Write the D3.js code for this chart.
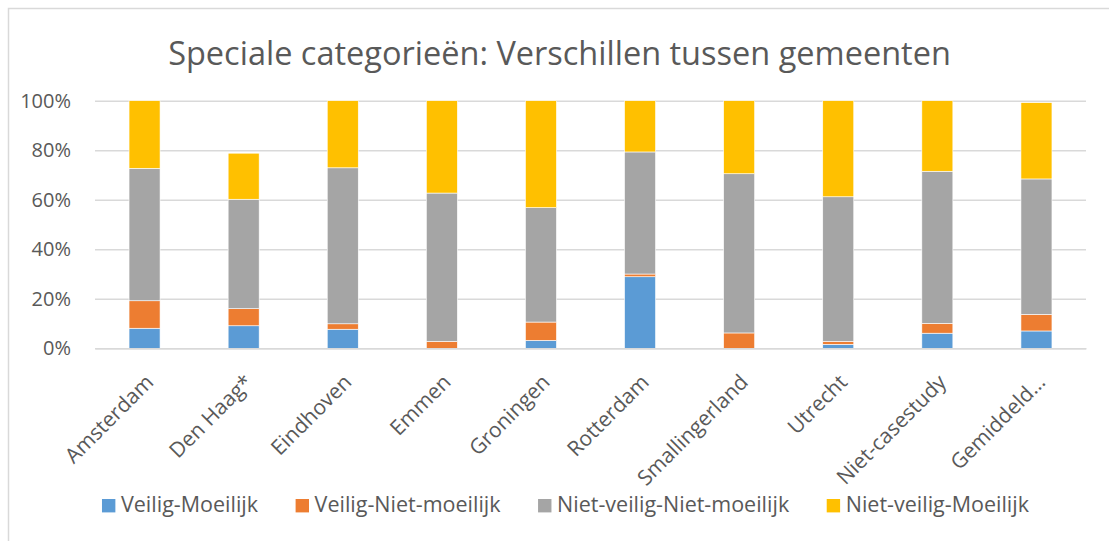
<!DOCTYPE html>
<html>
<head>
<meta charset="utf-8">
<script src="https://cdn.jsdelivr.net/npm/d3@7"></script>
<style>
  html, body { margin: 0; padding: 0; background: #fff; }
  svg { display: block; font-family: "Open Sans", sans-serif; }
</style>
</head>
<body>
<svg id="chart" width="1109" height="541"></svg>
<script>
const categories = ["Amsterdam", "Den Haag*", "Eindhoven", "Emmen", "Groningen", "Rotterdam", "Smallingerland", "Utrecht", "Niet-casestudy", "Gemiddeld…"];
const seriesNames = ["Veilig-Moeilijk", "Veilig-Niet-moeilijk", "Niet-veilig-Niet-moeilijk", "Niet-veilig-Moeilijk"];
const veiligMoeilijk         = [8.1, 9.1, 7.7, 0.0, 3.2, 28.9, 0.0, 1.6, 6.1, 7.0];
const veiligNietMoeilijk     = [11.1, 6.9, 2.2, 2.8, 7.4, 1.1, 6.2, 1.2, 4.0, 6.7];
const nietVeiligNietMoeilijk = [53.5, 44.2, 63.0, 59.9, 46.2, 49.3, 64.3, 58.4, 61.4, 54.7];
const nietVeiligMoeilijk     = [27.3, 18.6, 27.1, 37.3, 43.2, 20.7, 29.5, 38.8, 28.5, 30.8];
const seriesColors = ["#5b9bd5", "#ed7d31", "#a5a5a5", "#ffc000"];
const yTicks = [0, 20, 40, 60, 80, 100];
const titleText = "Speciale categorieën: Verschillen tussen gemeenten";

const svg = d3.select("#chart");
const W = 1109, H = 541;
const plot = { left: 95, right: 1086, top: 100.7, bottom: 348.3 };
const textColor = "#595959";

// chart frame (clipped at right/bottom like the reference)
svg.append("rect").attr("x", 8.5).attr("y", 8.5).attr("width", W + 20).attr("height", H + 20)
  .attr("fill", "#fff").attr("stroke", "#d9d9d9").attr("stroke-width", 1.5);

const data = categories.map((c, i) => ({
  cat: c,
  [seriesNames[0]]: veiligMoeilijk[i],
  [seriesNames[1]]: veiligNietMoeilijk[i],
  [seriesNames[2]]: nietVeiligNietMoeilijk[i],
  [seriesNames[3]]: nietVeiligMoeilijk[i]
}));

const x = d3.scaleBand().domain(categories).range([plot.left, plot.right]).paddingInner(0.687).paddingOuter(0.3435);
const y = d3.scaleLinear().domain([0, 100]).range([plot.bottom, plot.top]);
const color = d3.scaleOrdinal().domain(seriesNames).range(seriesColors);

// title
svg.append("text").attr("x", 559.5).attr("y", 65).attr("text-anchor", "middle")
  .attr("font-size", 32.5).attr("fill", textColor).text(titleText);

// gridlines + y labels
const yAxis = d3.axisLeft(y).tickValues(yTicks).tickFormat(d => d + "%").tickSize(-(plot.right - plot.left)).tickPadding(24);
const gy = svg.append("g").attr("transform", `translate(${plot.left},0)`).call(yAxis);
gy.select(".domain").remove();
gy.selectAll(".tick line").attr("stroke", "#d9d9d9").attr("stroke-width", 1.5);
gy.selectAll(".tick text").attr("fill", textColor).attr("font-size", 20).attr("font-family", "Open Sans, sans-serif");

// bars
const stack = d3.stack().keys(seriesNames);
const layers = stack(data);
svg.append("g").selectAll("g").data(layers).join("g")
  .attr("fill", d => color(d.key))
  .selectAll("rect").data(d => d).join("rect")
  .attr("x", d => x(d.data.cat))
  .attr("width", x.bandwidth())
  .attr("y", d => y(d[1]))
  .attr("height", d => Math.max(0, y(d[0]) - y(d[1])))
  .attr("stroke", "#fff").attr("stroke-width", 0.6);

// x axis
const xAxis = d3.axisBottom(x).tickSize(0).tickPadding(0);
const gx = svg.append("g").attr("transform", `translate(0,${plot.bottom})`).call(xAxis);
gx.select(".domain").attr("stroke", "#d9d9d9").attr("stroke-width", 1.5);
gx.selectAll(".tick text")
  .attr("fill", textColor).attr("font-size", 21).attr("font-family", "Open Sans, sans-serif")
  .attr("text-anchor", "end")
  .attr("dy", "0.35em")
  .attr("transform", "translate(5,30) rotate(-45)");

// legend
const legend = svg.append("g");
const items = legend.selectAll("g").data(seriesNames).join("g");
items.append("rect").attr("width", 13.4).attr("height", 13.4).attr("y", -13.3).attr("fill", d => color(d));
items.append("text").attr("x", 19).attr("y", 0).attr("font-size", 21.5).attr("fill", textColor).text(d => d);
const widths = [];
items.each(function () { widths.push(19 + d3.select(this).select("text").node().getComputedTextLength()); });
const gap = 37.5;
const total = d3.sum(widths) + gap * (widths.length - 1);
let start = 565.5 - total / 2;
items.attr("transform", (d, i) => {
  const t = `translate(${start},512.3)`;
  start += widths[i] + gap;
  return t;
});
</script>
</body>
</html>
